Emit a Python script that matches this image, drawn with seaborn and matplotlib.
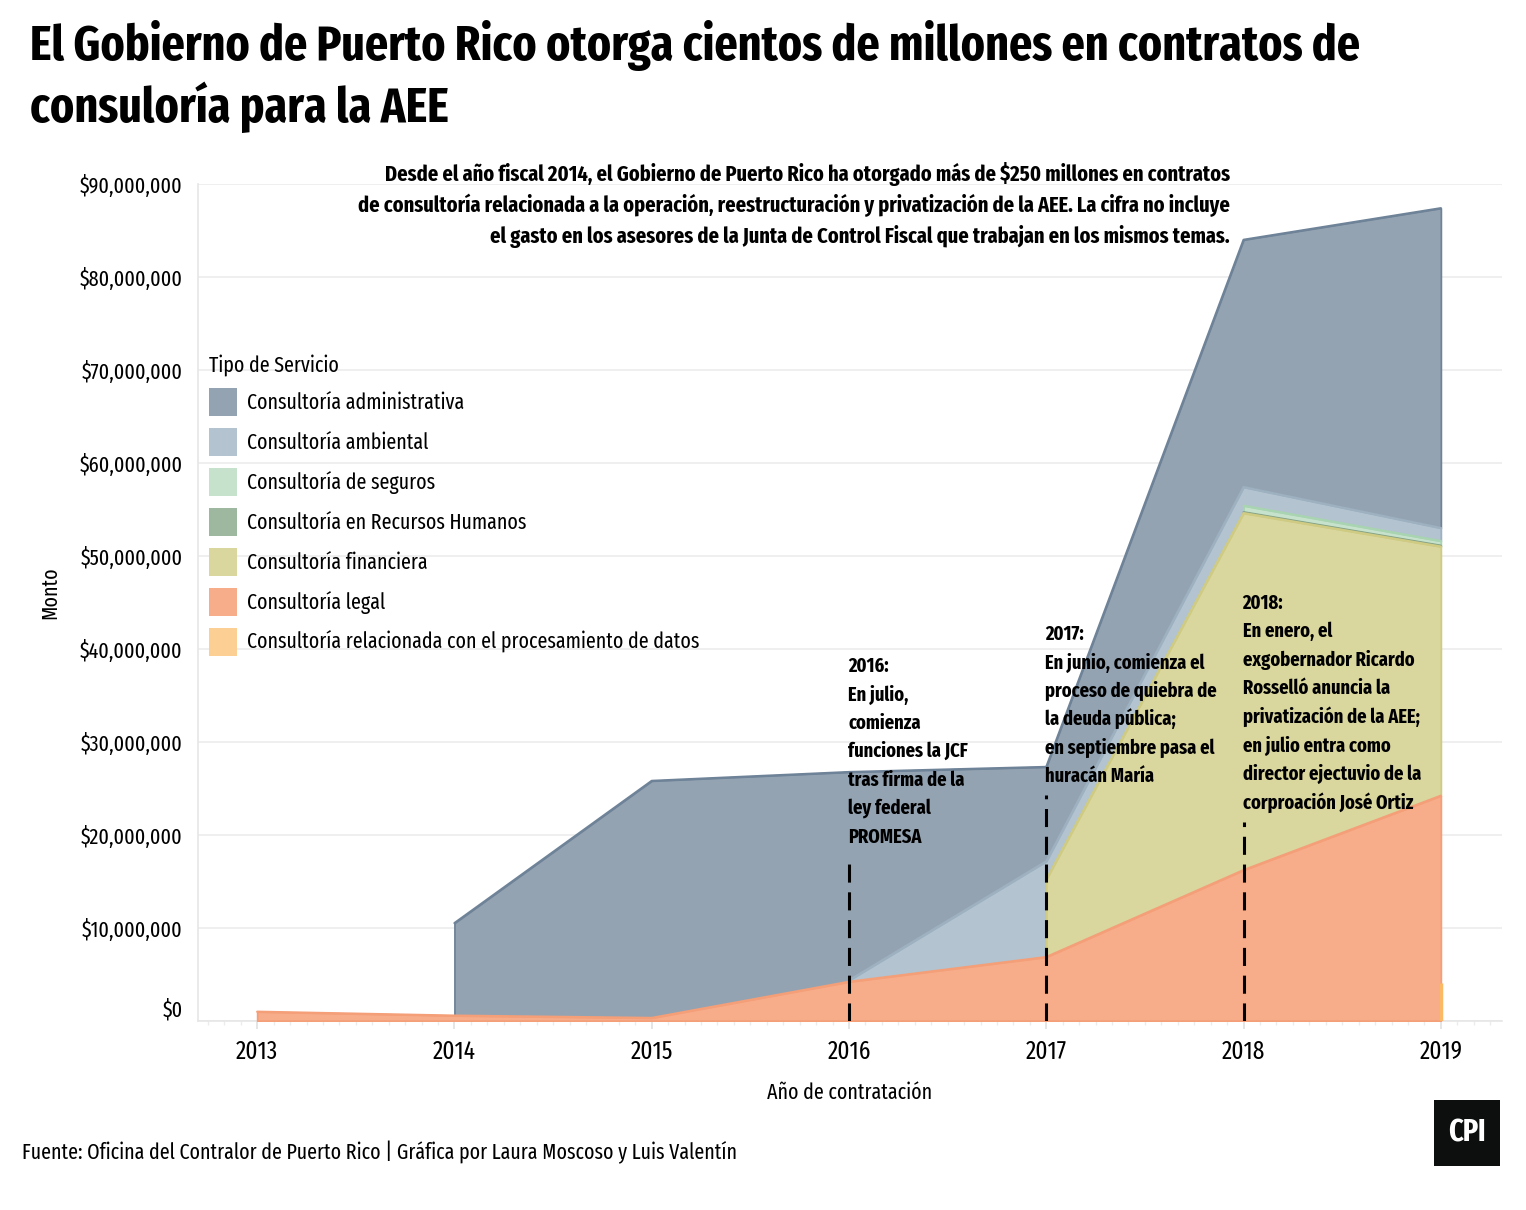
import numpy as np
import pandas as pd
import matplotlib
matplotlib.use("Agg")
import matplotlib.pyplot as plt
from matplotlib.patches import Patch, Rectangle
from matplotlib.ticker import FuncFormatter, MultipleLocator
from matplotlib import font_manager
from matplotlib.font_manager import FontProperties
import seaborn as sns

# ---------------- data (dollars) ----------------
years = [2013, 2014, 2015, 2016, 2017, 2018, 2019]
nan = np.nan
admin      = [nan, 9.95e6, 25.5e6, 22.56e6, 10.15e6, 26.6e6, 34.4e6]
ambiental  = [nan, nan, nan, 0.15e6, 10.3e6, 2.8e6, 1.4e6]
seguros    = [nan, nan, nan, nan, nan, 0.8e6, 0.5e6]
rrhh       = [nan, nan, nan, nan, nan, 0.1e6, 0.1e6]
financiera = [nan, nan, nan, nan, 8.35e6, 38.4e6, 26.8e6]
legal      = [0.97e6, 0.55e6, 0.3e6, 4.19e6, 6.85e6, 16.2e6, 24.2e6]
datos      = [nan, nan, nan, nan, nan, nan, 4.1e6]

labels = ["Consultoría administrativa", "Consultoría ambiental", "Consultoría de seguros",
          "Consultoría en Recursos Humanos", "Consultoría financiera", "Consultoría legal",
          "Consultoría relacionada con el procesamiento de datos"]
series_vals = [admin, ambiental, seguros, rrhh, financiera, legal, datos]
fills   = ["#94a3b2", "#b3c3cf", "#c6e2cc", "#9eb79f", "#d9d69e", "#f7ac8a", "#fccf95"]
strokes = ["#6f8398", "#9db1c1", "#a8d4b1", "#86a387", "#cfcb82", "#f49f78", "#fbb865"]

y_ticks = list(range(0, 90_000_001, 10_000_000))
x_ticks = years

notes = [
    (2016, ["2016:", "En julio,", "comienza", "funciones la JCF", "tras firma de la",
            "ley federal", "PROMESA"]),
    (2017, ["2017:", "En junio, comienza el", "proceso de quiebra de", "la deuda pública;",
            "en septiembre pasa el", "huracán María"]),
    (2018, ["2018:", "En enero, el", "exgobernador Ricardo", "Rosselló anuncia la",
            "privatización de la AEE;", "en julio entra como", "director ejectuvio de la",
            "corproación José Ortiz"]),
]
subtitle = ["Desde el año fiscal 2014, el Gobierno de Puerto Rico ha otorgado más de $250 millones en contratos",
            "de consultoría relacionada a la operación, reestructuración y privatización de la AEE. La cifra no incluye",
            "el gasto en los asesores de la Junta de Control Fiscal que trabajan en los mismos temas."]
title = ["El Gobierno de Puerto Rico otorga cientos de millones en contratos de",
         "consuloría para la AEE"]
source = "Fuente: Oficina del Contralor de Puerto Rico | Gráfica por Laura Moscoso y Luis Valentín"

# ---------------- style ----------------
sns.set_theme(style="white")
for k in ["text.color", "axes.labelcolor", "xtick.color", "ytick.color"]:
    plt.rcParams[k] = "black"
plt.rcParams["lines.scale_dashes"] = False


def pick_font(bold, key):
    best = None
    for f in font_manager.fontManager.ttflist:
        p = f.fname.lower().replace("-", "").replace("_", "")
        if key not in p:
            continue
        if key == "condensed" and any(k in p for k in ("extra", "semi", "ultra")):
            continue
        if any(k in p for k in ("italic", "oblique", "mono", "serif", "light", "medium",
                                "black", "thin", "semibold")):
            continue
        w = f.weight if isinstance(f.weight, int) else (700 if "bold" in str(f.weight) else 400)
        if bold and w != 700:
            continue
        if not bold and w != 400:
            continue
        rank = 0 if "noto" in p else (1 if "dejavu" in p else 2)
        if best is None or rank < best[0]:
            best = (rank, f.fname)
    return best[1] if best else None


reg_path = pick_font(False, "extracondensed") or pick_font(False, "condensed")
bold_path = pick_font(True, "extracondensed") or pick_font(True, "condensed")
if reg_path and bold_path:
    FP_REG = lambda: FontProperties(fname=reg_path)
    FP_BOLD = lambda: FontProperties(fname=bold_path)
else:
    FP_REG = lambda: FontProperties(family=["Roboto", "DejaVu Sans"])
    FP_BOLD = lambda: FontProperties(family=["Roboto", "DejaVu Sans"], weight="bold")

W, H = 1526, 1210
fig = plt.figure(figsize=(W / 100, H / 100), dpi=100)
fig.patch.set_facecolor("white")
renderer = fig.canvas.get_renderer()


def size_for(s, target, bold=False):
    fp = FP_BOLD() if bold else FP_REG()
    fp.set_size(20)
    t = fig.text(0, 0, s, fontproperties=fp)
    w = t.get_window_extent(renderer).width
    t.remove()
    return 20 * target / w


S_TITLE = size_for(title[0], 1335, True)
S_SUB = size_for(subtitle[1], 872, True)
S_NOTE = size_for("exgobernador Ricardo", 172, True)
S_LEG = size_for(labels[-1], 452)
S_TICK = size_for("$90,000,000", 103)
S_XTICK = size_for("2013", 42)
S_FOOT = size_for(source, 715)
S_XLAB = size_for("Año de contratación", 165)


def fp(size, bold=False):
    p = FP_BOLD() if bold else FP_REG()
    p.set_size(size)
    return p


ax_l, ax_r, ax_t, ax_b = 198, 1502, 184, 1020.7
ax = fig.add_axes([ax_l / W, 1 - ax_b / H, (ax_r - ax_l) / W, (ax_b - ax_t) / H])
ax.set_facecolor("white")


def fx(px):
    return px / W


def fy(py):
    return 1 - py / H


# ---------------- stacking ----------------
yrs = np.array(years, float)
cum = np.zeros(len(years))
bounds = {}
for name, vals in zip(labels[::-1], series_vals[::-1]):  # bottom -> top
    v = np.array(vals, float)
    defined = ~np.isnan(v)
    bottom = cum.copy()
    top = bottom + np.nan_to_num(v)
    bounds[name] = (bottom, top, defined)
    prev_def = np.r_[True, defined[:-1]]
    cum = cum + np.where(defined & prev_def, np.nan_to_num(v), 0.0)

for z, (name, fc, ec) in enumerate(zip(labels, fills, strokes)):
    b, t, d = bounds[name]
    xs = yrs[d]
    if d.sum() == 1:
        ax.vlines(xs, b[d], t[d], color=ec, lw=2.5, zorder=3 + z)
    else:
        ax.fill_between(xs, b[d], t[d], facecolor=fc, edgecolor=ec, linewidth=1.3, zorder=3 + z)
        df = pd.DataFrame({"year": xs, "top": t[d]})
        sns.lineplot(data=df, x="year", y="top", ax=ax, color=ec, lw=1.6, zorder=3 + z,
                     legend=False)

# ---------------- axes ----------------
ax.set_xlim(2012.70, 2019.31)
ax.set_ylim(0, 90_000_000)
ax.set_xticks(x_ticks)
ax.set_xticklabels([str(y) for y in x_ticks])
ax.xaxis.set_minor_locator(MultipleLocator(1 / 12))
ax.set_yticks(y_ticks)
ax.yaxis.set_major_formatter(FuncFormatter(lambda v, p: f"${v:,.0f}"))
ax.grid(axis="y", color="#ececec", lw=1.2, zorder=0)
ax.grid(axis="x", visible=False)
for s in ["top", "right"]:
    ax.spines[s].set_visible(False)
for s in ["left", "bottom"]:
    ax.spines[s].set_color("#e6e6e6")
    ax.spines[s].set_linewidth(1.2)
ax.tick_params(axis="x", which="major", length=6, color="#e0e0e0", width=1.2,
               pad=7, bottom=True)
ax.tick_params(axis="x", which="minor", length=3, color="#ececec", width=1, bottom=True)
ax.tick_params(axis="y", length=0, pad=11)
fig.canvas.draw()
for lab in ax.get_xticklabels():
    lab.set_fontproperties(fp(S_XTICK))
    lab.set_color("black")
for lab in ax.get_yticklabels():
    lab.set_fontproperties(fp(S_TICK))
    lab.set_color("black")
ax.get_yticklabels()[0].set_verticalalignment("bottom")
ax.set_xlabel("")
ax.set_ylabel("")

fig.text(fx(50), fy(593), "Monto", rotation=90, ha="center", va="center",
         fontproperties=fp(S_XLAB))
fig.text(fx(850), fy(1093), "Año de contratación", ha="center", va="center",
         fontproperties=fp(S_XLAB))

# ---------------- legend ----------------
fs_px = S_LEG * 100 / 72
hh = (28 / fs_px - 0.245) / 0.65
handles = [Patch(facecolor=c, edgecolor="none") for c in fills]
leg = ax.legend(handles, labels, title="Tipo de Servicio", loc="upper left",
                bbox_to_anchor=(fx(209), fy(354)), bbox_transform=fig.transFigure,
                frameon=False, prop=fp(S_LEG), title_fontproperties=fp(S_LEG),
                handlelength=28 / fs_px, handleheight=hh,
                handletextpad=10 / fs_px, labelspacing=12 / fs_px,
                borderpad=0, borderaxespad=0)
leg._legend_box.align = "left"
leg.set_zorder(20)

# ---------------- annotations ----------------
dash_tops = {2016: 17.8e6, 2017: 24.3e6, 2018: 21.4e6}
text_tops = {2016: 666, 2017: 634, 2018: 603}
for yr, lines in notes:
    ax.vlines(yr, 0, dash_tops[yr], color="black", lw=2.2,
              linestyles=[(0, (13, 7))], zorder=15)
    x_px = ax_l + (yr - 2012.70) / (2019.31 - 2012.70) * (ax_r - ax_l)
    for i, line in enumerate(lines):
        fig.text(fx(x_px - 1), fy(text_tops[yr] + i * 28.5), line, ha="left", va="center",
                 fontproperties=fp(S_NOTE, True), zorder=20)

for i, line in enumerate(subtitle):
    fig.text(fx(1230), fy(174 + i * 31), line, ha="right", va="center",
             fontproperties=fp(S_SUB, True))

fig.text(fx(30), fy(60), title[0], ha="left", va="baseline", fontproperties=fp(S_TITLE, True))
fig.text(fx(30), fy(122), title[1], ha="left", va="baseline", fontproperties=fp(S_TITLE, True))

fig.text(fx(22), fy(1152), source, ha="left", va="center", fontproperties=fp(S_FOOT))

fig.patches.append(Rectangle((fx(1434), fy(1166)), fx(66), 66 / H, transform=fig.transFigure,
                             facecolor="#0d0f0f", edgecolor="none"))
fig.text(fx(1467), fy(1133), "CPI", ha="center", va="center",
         fontproperties=fp(22, True), color="white")

fig.savefig("out.png", dpi=100, facecolor="white")
